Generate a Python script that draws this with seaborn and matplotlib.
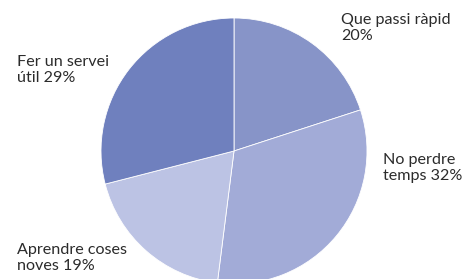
import matplotlib
matplotlib.use("Agg")
import matplotlib.pyplot as plt
import seaborn as sns

# data
labels = ["Que passi ràpid\n20%", "No perdre\ntemps 32%",
          "Aprendre coses\nnoves 19%", "Fer un servei\nútil 29%"]
shares = [20, 32, 19, 29]
colors = ["#8794c8", "#a2abd7", "#bcc3e4", "#6f80be"]

sns.set_theme(style="white")
plt.rcParams["font.family"] = ["Lato", "DejaVu Sans"]

W, H = 464, 279
fig = plt.figure(figsize=(W / 100, H / 100), dpi=100)
ax = fig.add_axes([0, 0, 1, 1])

ax.pie(shares, colors=colors, startangle=90, counterclock=False,
       center=(234, H - 151), radius=133, frame=True,
       wedgeprops=dict(edgecolor="white", linewidth=0.6))
ax.set_xlim(0, W)
ax.set_ylim(0, H)
ax.set_aspect("equal")
ax.axis("off")

# label spots (top-left corner of each text block, pixels from top)
label_pos = [(341, 13), (383, 153), (17, 243), (17, 55)]
for txt, (x, y) in zip(labels, label_pos):
    ax.text(x, H - y, txt, ha="left", va="top", fontsize=11.6,
            color="#2b2b2b", linespacing=1.2)

fig.savefig("out.png", dpi=100)
